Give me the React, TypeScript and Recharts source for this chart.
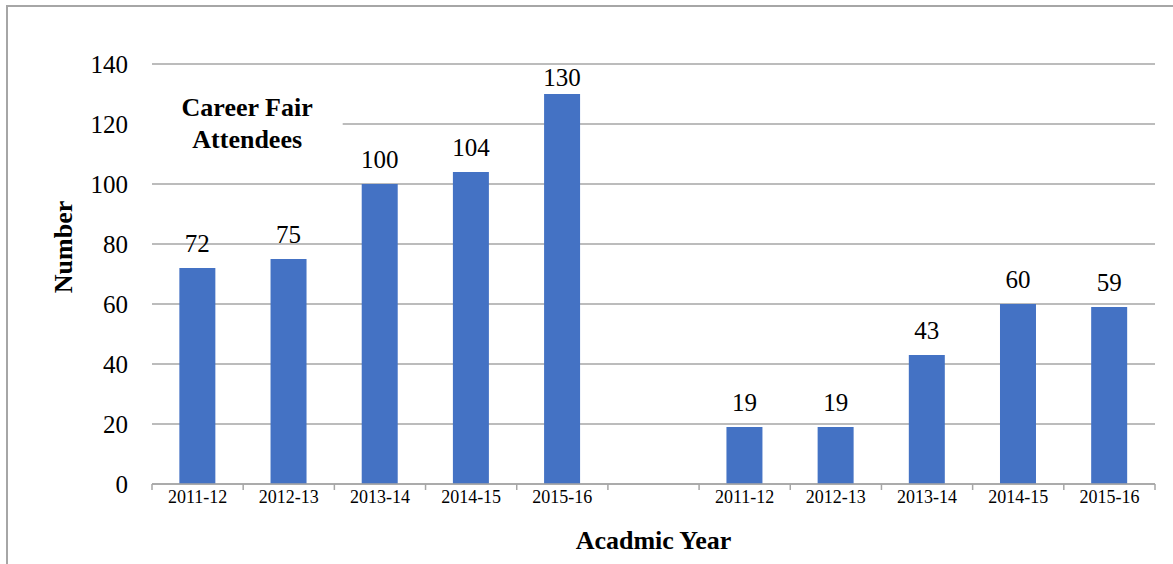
import { BarChart, Bar, XAxis, YAxis, CartesianGrid, LabelList, ReferenceArea, Label } from "recharts"

const years = ["2011-12", "2012-13", "2013-14", "2014-15", "2015-16"]
const careerFair = [72, 75, 100, 104, 130]
const onCampus = [19, 19, 43, 60, 59]
const yTicks = [0, 20, 40, 60, 80, 100, 120, 140]
const careerFairTitle = ["Career Fair", "Attendees"]
const onCampusTitle = ["On-Campus Presentations &", "Interviews and Site Visits"]

// one empty slot separates the two groups
const data = [
  ...years.map((year, i) => ({ key: `fair|${year}`, value: careerFair[i] })),
  { key: "gap", value: null },
  ...years.map((year, i) => ({ key: `campus|${year}`, value: onCampus[i] })),
]

const WIDTH = 1173
const HEIGHT = 564
const MARGIN = { top: 64, right: 18, left: 0, bottom: 0 }
const SERIF = "Liberation Serif"
const GRID = "#a6a6a6"
const BAR = "#4472C4"

const yearOf = (key: string) => key.split("|")[1] ?? ""

// category label in the middle, tick marks on the band edges
function YearTick(props: any) {
  const { x, y, payload, index, visibleTicksCount } = props
  const half = payload?.offset ?? 0
  const axisY = y - 6
  const isLast = index === visibleTicksCount - 1
  return (
    <g>
      <line x1={x - half} x2={x - half} y1={axisY} y2={axisY + 6} stroke={GRID} strokeWidth={1.5} />
      {isLast && <line x1={x + half} x2={x + half} y1={axisY} y2={axisY + 6} stroke={GRID} strokeWidth={1.5} />}
      <text x={x} y={y} dy="0.71em" textAnchor="middle" fontFamily={SERIF} fontSize={18} fill="#000">
        {yearOf(payload.value)}
      </text>
    </g>
  )
}

function ValueTag({ x, y, value }: any) {
  return (
    <text x={x} y={y} textAnchor="middle" fontFamily={SERIF} fontSize={25} fill="#000">
      {value}
    </text>
  )
}

function renderValue(props: any) {
  const { value } = props
  if (value == null) return null
  const vb = props.viewBox ?? props
  // keep the label inside the plot when the bar reaches the top
  const baseline = Math.max(vb.y - 16, MARGIN.top + 22)
  return <ValueTag x={vb.x + vb.width / 2} y={baseline} value={value} />
}

function GroupTitle({ viewBox, lines, dx, halfWidth }: any) {
  if (!viewBox) return null
  const cx = viewBox.x + viewBox.width / 2 + dx
  const cy = viewBox.y + viewBox.height / 2
  return (
    <g>
      <rect x={cx - halfWidth} y={viewBox.y} width={halfWidth * 2} height={viewBox.height} fill="#fff" />
      <text x={cx} y={cy - 7} textAnchor="middle" fontFamily={SERIF} fontWeight="bold" fontSize={26} fill="#000">
        {lines[0]}
      </text>
      <text x={cx} y={cy + 25} textAnchor="middle" fontFamily={SERIF} fontWeight="bold" fontSize={26} fill="#000">
        {lines[1]}
      </text>
    </g>
  )
}

export default function App() {
  return (
    <div
      style={{
        position: "absolute",
        left: 0,
        top: 0,
        width: WIDTH,
        height: HEIGHT,
        background: "#fff",
        fontFamily: SERIF,
      }}
    >
      <BarChart width={WIDTH} height={HEIGHT} data={data} margin={MARGIN} barCategoryGap="30%">
        <CartesianGrid vertical={false} stroke={GRID} strokeWidth={1.5} />
        <XAxis
          dataKey="key"
          interval={0}
          height={80}
          tickSize={6}
          tickMargin={0}
          tickLine={false}
          axisLine={{ stroke: GRID, strokeWidth: 1.5 }}
          tick={<YearTick />}
        >
          <Label
            value="Acadmic Year"
            position="insideBottom"
            offset={15}
            fontFamily={SERIF}
            fontWeight="bold"
            fontSize={26}
            fill="#000"
          />
        </XAxis>
        <YAxis
          width={152}
          domain={[0, 140]}
          ticks={yTicks}
          axisLine={false}
          tickLine={false}
          tickSize={0}
          tickMargin={24}
          tick={{ fontSize: 25, fill: "#000", fontFamily: SERIF }}
        >
          <Label
            value="Number"
            angle={-90}
            position="center"
            dx={-13}
            dy={-27}
            fontFamily={SERIF}
            fontWeight="bold"
            fontSize={26}
            fill="#000"
          />
        </YAxis>
        <ReferenceArea x1="fair|2011-12" x2="fair|2012-13" y1={110} y2={131} fillOpacity={0} strokeOpacity={0}>
          <Label content={(p: any) => <GroupTitle viewBox={p.viewBox} lines={careerFairTitle} dx={4} halfWidth={95.5} />} />
        </ReferenceArea>
        <ReferenceArea x1="campus|2013-14" x2="campus|2015-16" y1={110} y2={131} fillOpacity={0} strokeOpacity={0}>
          <Label content={(p: any) => <GroupTitle viewBox={p.viewBox} lines={onCampusTitle} dx={-18} halfWidth={204.5} />} />
        </ReferenceArea>
        <Bar dataKey="value" fill={BAR} isAnimationActive={false}>
          <LabelList dataKey="value" content={renderValue} />
        </Bar>
      </BarChart>
      <div
        style={{
          position: "absolute",
          left: 6,
          top: 5,
          right: 0,
          bottom: 0,
          borderTop: `2px solid ${GRID}`,
          borderLeft: `2px solid ${GRID}`,
          pointerEvents: "none",
        }}
      />
    </div>
  )
}
